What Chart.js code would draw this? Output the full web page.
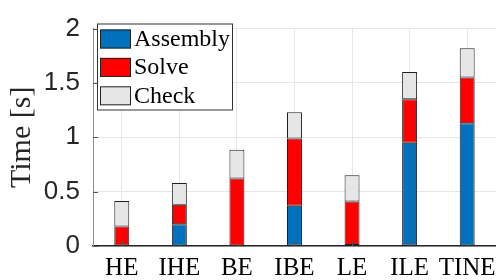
<!DOCTYPE html>
<html>
<head>
<meta charset="utf-8">
<script src="https://cdn.jsdelivr.net/npm/chart.js@4"></script>
<style>
  html, body { margin: 0; padding: 0; background: #fff; }
  #wrap { width: 503px; height: 280px; }
</style>
</head>
<body>
<div id="wrap"><canvas id="chart" width="503" height="280"></canvas></div>
<script>
// methods on the x axis
const methods = ['HE', 'IHE', 'BE', 'IBE', 'LE', 'ILE', 'TINE']
// time per phase in seconds
const assembly = [0, 0.20, 0, 0.37, 0.01, 0.95, 1.13]
const solve = [0.18, 0.18, 0.62, 0.62, 0.40, 0.40, 0.42]
const check = [0.235, 0.20, 0.265, 0.24, 0.24, 0.25, 0.27]
const yTicks = [0, 0.5, 1, 1.5, 2]

const serif = "'Liberation Serif', 'DejaVu Serif', serif"
const sans = "'Liberation Sans', Arial, sans-serif"

// legend boxed inside the axes, like matlab's 'northwest'
const boxLegend = {
    id: 'boxLegend',
    afterDraw(chart){
        const ctx = chart.ctx
        const x0 = 97, y0 = 23.5, w = 136, h = 87
        ctx.save()
        ctx.fillStyle = '#fff'
        ctx.fillRect(x0, y0, w, h)
        ctx.strokeStyle = '#333'
        ctx.lineWidth = 1
        ctx.strokeRect(x0 + 0.5, y0 + 0.5, w - 1, h - 1)
        ctx.font = '24px ' + serif
        ctx.textBaseline = 'middle'
        chart.data.datasets.forEach((ds, i) => {
            const sy = 29.5 + i * 28.4
            ctx.fillStyle = ds.backgroundColor
            ctx.fillRect(100, sy, 31, 19)
            ctx.strokeStyle = '#222'
            ctx.strokeRect(100.5, sy + 0.5, 30, 18)
            ctx.fillStyle = '#000'
            ctx.fillText(ds.label, 134, sy + 10)
        })
        ctx.restore()
    }
}

// small inward ticks on the left and bottom axes
const inTicks = {
    id: 'inTicks',
    afterDatasetsDraw(chart){
        const ctx = chart.ctx
        const {left, bottom} = chart.chartArea
        const sx = chart.scales.x, sy = chart.scales.y
        ctx.save()
        ctx.strokeStyle = '#555'
        ctx.lineWidth = 1
        ctx.beginPath()
        sy.ticks.forEach(t => {
            const y = Math.round(sy.getPixelForValue(t.value)) + 0.5
            ctx.moveTo(left, y)
            ctx.lineTo(left + 5, y)
        })
        sx.ticks.forEach((t, i) => {
            const x = Math.round(sx.getPixelForTick(i)) + 0.5
            ctx.moveTo(x, bottom)
            ctx.lineTo(x, bottom - 5)
        })
        ctx.stroke()
        ctx.restore()
    }
}

const config = {
    type: 'bar',
    data: {
        labels: methods,
        datasets: [{
            label: 'Assembly',
            data: assembly,
            backgroundColor: '#0072BD'
        },{
            label: 'Solve',
            data: solve,
            backgroundColor: '#FF0000'
        },{
            label: 'Check',
            data: check,
            backgroundColor: '#E6E6E6'
        }]
    },
    options: {
        responsive: false,
        animation: false,
        devicePixelRatio: 1,
        layout: { padding: { top: 18, right: 5, left: 0, bottom: 0 } },
        datasets: {
            bar: {
                borderColor: '#1f1f1f',
                borderWidth: 1,
                borderSkipped: false,
                categoryPercentage: 1,
                barPercentage: 0.26
            }
        },
        plugins: {
            legend: { display: false },
            tooltip: { enabled: false }
        },
        scales: {
            x: {
                stacked: true,
                grid: { offset: false, color: '#e6e6e6', drawTicks: false },
                border: { color: '#262626', width: 1.5 },
                ticks: { color: '#000', font: { family: serif, size: 25 }, padding: 7, maxRotation: 0, autoSkip: false },
                afterFit(scale){ scale.height = 34 }
            },
            y: {
                stacked: true,
                min: 0,
                max: 2,
                afterBuildTicks(scale){ scale.ticks = yTicks.map(v => ({ value: v })) },
                grid: { color: '#e6e6e6', drawTicks: false },
                border: { color: '#8c8c8c', width: 1 },
                ticks: {
                    color: '#262626',
                    font: { family: sans, size: 26 },
                    padding: 13,
                    callback: v => String(v)
                },
                title: {
                    display: true,
                    text: 'Time [s]',
                    color: '#262626',
                    font: { family: serif, size: 30 },
                    padding: { top: 4, bottom: 0 }
                },
                afterFit(scale){ scale.width = 93 }
            }
        }
    },
    plugins: [boxLegend, inTicks]
}

new Chart(document.getElementById('chart'), config)
</script>
</body>
</html>
